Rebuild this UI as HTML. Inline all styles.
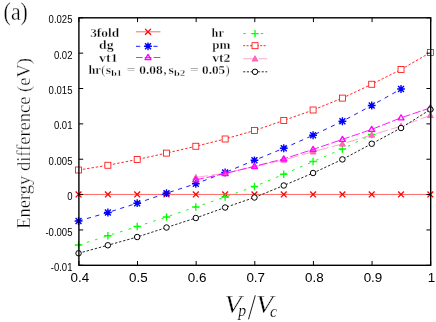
<!DOCTYPE html>
<html><head><meta charset="utf-8"><style>html,body{margin:0;padding:0;background:#fff}svg{display:block;will-change:transform}.th{stroke:#fff;stroke-width:0.35px}.th2{stroke:#fff;stroke-width:0.3px}</style></head>
<body><svg width="436" height="322" viewBox="0 0 436 322">
<path d="M78.55 194.45L107.87 194.45L137.18 194.45L166.50 194.45L195.82 194.45L225.13 194.45L254.45 194.45L283.77 194.45L313.08 194.45L342.40 194.45L371.72 194.45L401.03 194.45L430.35 194.45" stroke="#ff0000" stroke-width="0.6" fill="none"/>
<path d="M75.65 191.55L81.45 197.35M75.65 197.35L81.45 191.55" stroke="#ff0000" stroke-width="1.3" fill="none"/>
<path d="M104.97 191.55L110.77 197.35M104.97 197.35L110.77 191.55" stroke="#ff0000" stroke-width="1.3" fill="none"/>
<path d="M134.28 191.55L140.08 197.35M134.28 197.35L140.08 191.55" stroke="#ff0000" stroke-width="1.3" fill="none"/>
<path d="M163.60 191.55L169.40 197.35M163.60 197.35L169.40 191.55" stroke="#ff0000" stroke-width="1.3" fill="none"/>
<path d="M192.92 191.55L198.72 197.35M192.92 197.35L198.72 191.55" stroke="#ff0000" stroke-width="1.3" fill="none"/>
<path d="M222.23 191.55L228.03 197.35M222.23 197.35L228.03 191.55" stroke="#ff0000" stroke-width="1.3" fill="none"/>
<path d="M251.55 191.55L257.35 197.35M251.55 197.35L257.35 191.55" stroke="#ff0000" stroke-width="1.3" fill="none"/>
<path d="M280.87 191.55L286.67 197.35M280.87 197.35L286.67 191.55" stroke="#ff0000" stroke-width="1.3" fill="none"/>
<path d="M310.18 191.55L315.98 197.35M310.18 197.35L315.98 191.55" stroke="#ff0000" stroke-width="1.3" fill="none"/>
<path d="M339.50 191.55L345.30 197.35M339.50 197.35L345.30 191.55" stroke="#ff0000" stroke-width="1.3" fill="none"/>
<path d="M368.82 191.55L374.62 197.35M368.82 197.35L374.62 191.55" stroke="#ff0000" stroke-width="1.3" fill="none"/>
<path d="M398.13 191.55L403.93 197.35M398.13 197.35L403.93 191.55" stroke="#ff0000" stroke-width="1.3" fill="none"/>
<path d="M427.45 191.55L433.25 197.35M427.45 197.35L433.25 191.55" stroke="#ff0000" stroke-width="1.3" fill="none"/>
<path d="M78.55 221.00L107.87 212.50L137.18 203.20L166.50 193.20L195.82 183.75L225.13 172.50L254.45 160.30L283.77 148.25L313.08 135.25L342.40 121.25L371.72 105.50L401.03 89.00" stroke="#0000ff" stroke-width="0.9" fill="none" stroke-dasharray="4.2 4.5"/>
<path d="M74.65 221.00H82.45M78.55 217.10V224.90M75.60 218.05L81.50 223.95M75.60 223.95L81.50 218.05" stroke="#0000ff" stroke-width="1.4" fill="none"/>
<path d="M103.97 212.50H111.77M107.87 208.60V216.40M104.92 209.55L110.82 215.45M104.92 215.45L110.82 209.55" stroke="#0000ff" stroke-width="1.4" fill="none"/>
<path d="M133.28 203.20H141.08M137.18 199.30V207.10M134.23 200.25L140.13 206.15M134.23 206.15L140.13 200.25" stroke="#0000ff" stroke-width="1.4" fill="none"/>
<path d="M162.60 193.20H170.40M166.50 189.30V197.10M163.55 190.25L169.45 196.15M163.55 196.15L169.45 190.25" stroke="#0000ff" stroke-width="1.4" fill="none"/>
<path d="M191.92 183.75H199.72M195.82 179.85V187.65M192.87 180.80L198.77 186.70M192.87 186.70L198.77 180.80" stroke="#0000ff" stroke-width="1.4" fill="none"/>
<path d="M221.23 172.50H229.03M225.13 168.60V176.40M222.18 169.55L228.08 175.45M222.18 175.45L228.08 169.55" stroke="#0000ff" stroke-width="1.4" fill="none"/>
<path d="M250.55 160.30H258.35M254.45 156.40V164.20M251.50 157.35L257.40 163.25M251.50 163.25L257.40 157.35" stroke="#0000ff" stroke-width="1.4" fill="none"/>
<path d="M279.87 148.25H287.67M283.77 144.35V152.15M280.82 145.30L286.72 151.20M280.82 151.20L286.72 145.30" stroke="#0000ff" stroke-width="1.4" fill="none"/>
<path d="M309.18 135.25H316.98M313.08 131.35V139.15M310.13 132.30L316.03 138.20M310.13 138.20L316.03 132.30" stroke="#0000ff" stroke-width="1.4" fill="none"/>
<path d="M338.50 121.25H346.30M342.40 117.35V125.15M339.45 118.30L345.35 124.20M339.45 124.20L345.35 118.30" stroke="#0000ff" stroke-width="1.4" fill="none"/>
<path d="M367.82 105.50H375.62M371.72 101.60V109.40M368.77 102.55L374.67 108.45M368.77 108.45L374.67 102.55" stroke="#0000ff" stroke-width="1.4" fill="none"/>
<path d="M397.13 89.00H404.93M401.03 85.10V92.90M398.08 86.05L403.98 91.95M398.08 91.95L403.98 86.05" stroke="#0000ff" stroke-width="1.4" fill="none"/>
<path d="M78.55 245.00L107.87 235.75L137.18 226.50L166.50 217.00L195.82 207.00L225.13 197.00L254.45 186.50L283.77 174.25L313.08 161.50L342.40 149.00L371.72 134.50" stroke="#00ff00" stroke-width="0.95" fill="none" stroke-dasharray="2.6 6.1"/>
<path d="M74.85 245.00H82.25M78.55 241.30V248.70" stroke="#00ff00" stroke-width="1.3" fill="none"/>
<path d="M104.17 235.75H111.57M107.87 232.05V239.45" stroke="#00ff00" stroke-width="1.3" fill="none"/>
<path d="M133.48 226.50H140.88M137.18 222.80V230.20" stroke="#00ff00" stroke-width="1.3" fill="none"/>
<path d="M162.80 217.00H170.20M166.50 213.30V220.70" stroke="#00ff00" stroke-width="1.3" fill="none"/>
<path d="M192.12 207.00H199.52M195.82 203.30V210.70" stroke="#00ff00" stroke-width="1.3" fill="none"/>
<path d="M221.43 197.00H228.83M225.13 193.30V200.70" stroke="#00ff00" stroke-width="1.3" fill="none"/>
<path d="M250.75 186.50H258.15M254.45 182.80V190.20" stroke="#00ff00" stroke-width="1.3" fill="none"/>
<path d="M280.07 174.25H287.47M283.77 170.55V177.95" stroke="#00ff00" stroke-width="1.3" fill="none"/>
<path d="M309.38 161.50H316.78M313.08 157.80V165.20" stroke="#00ff00" stroke-width="1.3" fill="none"/>
<path d="M338.70 149.00H346.10M342.40 145.30V152.70" stroke="#00ff00" stroke-width="1.3" fill="none"/>
<path d="M368.02 134.50H375.42M371.72 130.80V138.20" stroke="#00ff00" stroke-width="1.3" fill="none"/>
<path d="M78.55 170.00L107.87 165.25L137.18 159.50L166.50 153.10L195.82 146.25L225.13 139.00L254.45 130.50L283.77 120.50L313.08 110.00L342.40 98.10L371.72 84.25L401.03 69.50L430.35 52.50" stroke="#ff0000" stroke-width="0.85" fill="none" stroke-dasharray="2.5 1.85"/>
<rect x="75.55" y="167.00" width="6.0" height="6.0" stroke="#ff0000" stroke-width="0.8" fill="#fff"/>
<rect x="104.87" y="162.25" width="6.0" height="6.0" stroke="#ff0000" stroke-width="0.8" fill="#fff"/>
<rect x="134.18" y="156.50" width="6.0" height="6.0" stroke="#ff0000" stroke-width="0.8" fill="#fff"/>
<rect x="163.50" y="150.10" width="6.0" height="6.0" stroke="#ff0000" stroke-width="0.8" fill="#fff"/>
<rect x="192.82" y="143.25" width="6.0" height="6.0" stroke="#ff0000" stroke-width="0.8" fill="#fff"/>
<rect x="222.13" y="136.00" width="6.0" height="6.0" stroke="#ff0000" stroke-width="0.8" fill="#fff"/>
<rect x="251.45" y="127.50" width="6.0" height="6.0" stroke="#ff0000" stroke-width="0.8" fill="#fff"/>
<rect x="280.77" y="117.50" width="6.0" height="6.0" stroke="#ff0000" stroke-width="0.8" fill="#fff"/>
<rect x="310.08" y="107.00" width="6.0" height="6.0" stroke="#ff0000" stroke-width="0.8" fill="#fff"/>
<rect x="339.40" y="95.10" width="6.0" height="6.0" stroke="#ff0000" stroke-width="0.8" fill="#fff"/>
<rect x="368.72" y="81.25" width="6.0" height="6.0" stroke="#ff0000" stroke-width="0.8" fill="#fff"/>
<rect x="398.03" y="66.50" width="6.0" height="6.0" stroke="#ff0000" stroke-width="0.8" fill="#fff"/>
<rect x="427.35" y="49.50" width="6.0" height="6.0" stroke="#ff0000" stroke-width="0.8" fill="#fff"/>
<path d="M195.82 177.50L225.13 173.10L254.45 166.60L283.77 159.90L313.08 151.70L342.40 143.90L371.72 134.90L401.03 126.20L430.35 115.40" stroke="#ff69b4" stroke-width="0.6" fill="none" stroke-dasharray="12 3.5"/>
<path d="M195.82 174.45L198.77 179.75H192.87Z" stroke="#ff69b4" stroke-width="1" stroke-linejoin="round" fill="#ff69b4"/>
<path d="M225.13 170.05L228.08 175.35H222.18Z" stroke="#ff69b4" stroke-width="1" stroke-linejoin="round" fill="#ff69b4"/>
<path d="M254.45 163.55L257.40 168.85H251.50Z" stroke="#ff69b4" stroke-width="1" stroke-linejoin="round" fill="#ff69b4"/>
<path d="M283.77 156.85L286.72 162.15H280.82Z" stroke="#ff69b4" stroke-width="1" stroke-linejoin="round" fill="#ff69b4"/>
<path d="M313.08 148.65L316.03 153.95H310.13Z" stroke="#ff69b4" stroke-width="1" stroke-linejoin="round" fill="#ff69b4"/>
<path d="M342.40 140.85L345.35 146.15H339.45Z" stroke="#ff69b4" stroke-width="1" stroke-linejoin="round" fill="#ff69b4"/>
<path d="M371.72 131.85L374.67 137.15H368.77Z" stroke="#ff69b4" stroke-width="1" stroke-linejoin="round" fill="#ff69b4"/>
<path d="M401.03 123.15L403.98 128.45H398.08Z" stroke="#ff69b4" stroke-width="1" stroke-linejoin="round" fill="#ff69b4"/>
<path d="M430.35 112.35L433.30 117.65H427.40Z" stroke="#ff69b4" stroke-width="1" stroke-linejoin="round" fill="#ff69b4"/>
<path d="M195.82 179.80L225.13 173.60L254.45 166.30L283.77 158.90L313.08 149.40L342.40 139.40L371.72 129.40L401.03 117.80L430.35 107.90" stroke="#ff00ff" stroke-width="0.9" fill="none" stroke-dasharray="8.5 2.3"/>
<path d="M195.82 176.75L198.82 181.80H192.82Z" stroke="#ff00ff" stroke-width="1.3" stroke-linejoin="round" fill="none"/>
<path d="M225.13 170.55L228.13 175.60H222.13Z" stroke="#ff00ff" stroke-width="1.3" stroke-linejoin="round" fill="none"/>
<path d="M254.45 163.25L257.45 168.30H251.45Z" stroke="#ff00ff" stroke-width="1.3" stroke-linejoin="round" fill="none"/>
<path d="M283.77 155.85L286.77 160.90H280.77Z" stroke="#ff00ff" stroke-width="1.3" stroke-linejoin="round" fill="none"/>
<path d="M313.08 146.35L316.08 151.40H310.08Z" stroke="#ff00ff" stroke-width="1.3" stroke-linejoin="round" fill="none"/>
<path d="M342.40 136.35L345.40 141.40H339.40Z" stroke="#ff00ff" stroke-width="1.3" stroke-linejoin="round" fill="none"/>
<path d="M371.72 126.35L374.72 131.40H368.72Z" stroke="#ff00ff" stroke-width="1.3" stroke-linejoin="round" fill="none"/>
<path d="M401.03 114.75L404.03 119.80H398.03Z" stroke="#ff00ff" stroke-width="1.3" stroke-linejoin="round" fill="none"/>
<path d="M430.35 104.85L433.35 109.90H427.35Z" stroke="#ff00ff" stroke-width="1.3" stroke-linejoin="round" fill="none"/>
<path d="M78.55 253.25L107.87 245.25L137.18 237.00L166.50 227.50L195.82 218.00L225.13 207.50L254.45 197.50L283.77 185.50L313.08 173.00L342.40 159.40L371.72 143.75L401.03 128.00L430.35 109.50" stroke="#000000" stroke-width="0.85" fill="none" stroke-dasharray="2.4 1.8"/>
<circle cx="78.55" cy="253.25" r="2.75" stroke="#000000" stroke-width="1" fill="#fff"/>
<circle cx="107.87" cy="245.25" r="2.75" stroke="#000000" stroke-width="1" fill="#fff"/>
<circle cx="137.18" cy="237.00" r="2.75" stroke="#000000" stroke-width="1" fill="#fff"/>
<circle cx="166.50" cy="227.50" r="2.75" stroke="#000000" stroke-width="1" fill="#fff"/>
<circle cx="195.82" cy="218.00" r="2.75" stroke="#000000" stroke-width="1" fill="#fff"/>
<circle cx="225.13" cy="207.50" r="2.75" stroke="#000000" stroke-width="1" fill="#fff"/>
<circle cx="254.45" cy="197.50" r="2.75" stroke="#000000" stroke-width="1" fill="#fff"/>
<circle cx="283.77" cy="185.50" r="2.75" stroke="#000000" stroke-width="1" fill="#fff"/>
<circle cx="313.08" cy="173.00" r="2.75" stroke="#000000" stroke-width="1" fill="#fff"/>
<circle cx="342.40" cy="159.40" r="2.75" stroke="#000000" stroke-width="1" fill="#fff"/>
<circle cx="371.72" cy="143.75" r="2.75" stroke="#000000" stroke-width="1" fill="#fff"/>
<circle cx="401.03" cy="128.00" r="2.75" stroke="#000000" stroke-width="1" fill="#fff"/>
<circle cx="430.35" cy="109.50" r="2.75" stroke="#000000" stroke-width="1" fill="#fff"/>
<path d="M136 31.8H160.4" stroke="#ff0000" stroke-width="0.6" fill="none"/>
<path d="M145.10 28.90L150.90 34.70M145.10 34.70L150.90 28.90" stroke="#ff0000" stroke-width="1.3" fill="none"/>
<path d="M136 46.3H160.4" stroke="#0000ff" stroke-width="0.9" fill="none" stroke-dasharray="4.2 4.5"/>
<path d="M144.10 46.30H151.90M148.00 42.40V50.20M145.05 43.35L150.95 49.25M145.05 49.25L150.95 43.35" stroke="#0000ff" stroke-width="1.4" fill="none"/>
<path d="M136 57.5H160.4" stroke="#ff00ff" stroke-width="0.9" fill="none" stroke-dasharray="6.7 2.1"/>
<path d="M148.00 54.45L151.00 59.50H145.00Z" stroke="#ff00ff" stroke-width="1.3" stroke-linejoin="round" fill="none"/>
<path d="M243.2 33.6H267.2" stroke="#00ff00" stroke-width="0.95" fill="none" stroke-dasharray="2.6 6.1"/>
<path d="M251.30 33.60H258.70M255.00 29.90V37.30" stroke="#00ff00" stroke-width="1.3" fill="none"/>
<path d="M243.2 45.7H267.2" stroke="#ff0000" stroke-width="0.85" fill="none" stroke-dasharray="2.0 1.4"/>
<rect x="252.00" y="42.70" width="6.0" height="6.0" stroke="#ff0000" stroke-width="0.8" fill="#fff"/>
<path d="M243.2 58.75H267.2" stroke="#ff69b4" stroke-width="0.6" fill="none" stroke-dasharray="12 3.5"/>
<path d="M255.00 55.70L257.95 61.00H252.05Z" stroke="#ff69b4" stroke-width="1" stroke-linejoin="round" fill="#ff69b4"/>
<path d="M243.2 71.8H267.2" stroke="#000000" stroke-width="0.85" fill="none" stroke-dasharray="2.1 1.6"/>
<circle cx="255.00" cy="71.80" r="2.75" stroke="#000000" stroke-width="1" fill="#fff"/>
<rect x="78.9" y="17.8" width="351.80" height="247.50" fill="none" stroke="#000" stroke-width="1.4"/>
<path d="M78.90 265.3V261.0M78.90 17.8V22.1M137.53 265.3V261.0M137.53 17.8V22.1M196.17 265.3V261.0M196.17 17.8V22.1M254.80 265.3V261.0M254.80 17.8V22.1M313.43 265.3V261.0M313.43 17.8V22.1M372.07 265.3V261.0M372.07 17.8V22.1M430.70 265.3V261.0M430.70 17.8V22.1M78.9 265.30H83.2M430.7 265.30H426.4M78.9 229.94H83.2M430.7 229.94H426.4M78.9 194.59H83.2M430.7 194.59H426.4M78.9 159.23H83.2M430.7 159.23H426.4M78.9 123.87H83.2M430.7 123.87H426.4M78.9 88.51H83.2M430.7 88.51H426.4M78.9 53.16H83.2M430.7 53.16H426.4M78.9 17.80H83.2M430.7 17.80H426.4" stroke="#000" stroke-width="1" fill="none"/>
<text transform="translate(72.5 270.90) scale(0.92 1)" text-anchor="end" font-family="Liberation Sans" font-size="10.4">-0.01</text>
<text transform="translate(72.5 235.54) scale(0.92 1)" text-anchor="end" font-family="Liberation Sans" font-size="10.4">-0.005</text>
<text transform="translate(72.5 200.19) scale(0.92 1)" text-anchor="end" font-family="Liberation Sans" font-size="10.4">0</text>
<text transform="translate(72.5 164.83) scale(0.92 1)" text-anchor="end" font-family="Liberation Sans" font-size="10.4">0.005</text>
<text transform="translate(72.5 129.47) scale(0.92 1)" text-anchor="end" font-family="Liberation Sans" font-size="10.4">0.01</text>
<text transform="translate(72.5 94.11) scale(0.92 1)" text-anchor="end" font-family="Liberation Sans" font-size="10.4">0.015</text>
<text transform="translate(72.5 58.76) scale(0.92 1)" text-anchor="end" font-family="Liberation Sans" font-size="10.4">0.02</text>
<text transform="translate(72.5 23.40) scale(0.92 1)" text-anchor="end" font-family="Liberation Sans" font-size="10.4">0.025</text>
<text x="79.80" y="281.7" text-anchor="middle" font-family="Liberation Sans" font-size="13.4">0.4</text>
<text x="138.43" y="281.7" text-anchor="middle" font-family="Liberation Sans" font-size="13.4">0.5</text>
<text x="197.07" y="281.7" text-anchor="middle" font-family="Liberation Sans" font-size="13.4">0.6</text>
<text x="255.70" y="281.7" text-anchor="middle" font-family="Liberation Sans" font-size="13.4">0.7</text>
<text x="314.33" y="281.7" text-anchor="middle" font-family="Liberation Sans" font-size="13.4">0.8</text>
<text x="372.97" y="281.7" text-anchor="middle" font-family="Liberation Sans" font-size="13.4">0.9</text>
<text x="431.60" y="281.7" text-anchor="middle" font-family="Liberation Sans" font-size="13.4">1</text>
<text class="th" x="3.6" y="20.3" font-family="Liberation Serif" font-size="25" textLength="24.3" lengthAdjust="spacingAndGlyphs">(a)</text>
<text class="th" transform="translate(29.9 143.4) rotate(-90)" text-anchor="middle" font-family="Liberation Serif" font-size="18.6" textLength="170.7" lengthAdjust="spacingAndGlyphs">Energy difference (eV)</text>
<text x="224.4" y="313.3" class="th" font-family="Liberation Serif" font-style="italic" font-size="24.5" textLength="17" lengthAdjust="spacingAndGlyphs">V</text>
<text x="238.3" y="316.4" font-family="Liberation Serif" font-style="italic" font-size="15.8" stroke="#fff" stroke-width="0.15">p</text>
<path d="M255.3 295.3L248.5 319.3" stroke="#000" stroke-width="0.9" fill="none"/>
<text x="256.1" y="313.3" class="th" font-family="Liberation Serif" font-style="italic" font-size="24.5" textLength="17" lengthAdjust="spacingAndGlyphs">V</text>
<text x="270.0" y="316.9" font-family="Liberation Serif" font-style="italic" font-size="16" stroke="#fff" stroke-width="0.15">c</text>
<text class="th2" x="90.2" y="37.1" textLength="29" lengthAdjust="spacingAndGlyphs" font-family="Liberation Serif" font-weight="bold" font-size="12">3fold</text>
<text class="th2" x="99.1" y="49.1" textLength="14.6" lengthAdjust="spacingAndGlyphs" font-family="Liberation Serif" font-weight="bold" font-size="12">dg</text>
<text class="th2" x="99.1" y="61.8" textLength="18.6" lengthAdjust="spacingAndGlyphs" font-family="Liberation Serif" font-weight="bold" font-size="12">vt1</text>
<text class="th2" x="211.6" y="37.0" textLength="12.2" lengthAdjust="spacingAndGlyphs" font-family="Liberation Serif" font-weight="bold" font-size="12">hr</text>
<text class="th2" x="212.2" y="48.7" textLength="18.2" lengthAdjust="spacingAndGlyphs" font-family="Liberation Serif" font-weight="bold" font-size="12">pm</text>
<text class="th2" x="212.2" y="61.7" textLength="18.2" lengthAdjust="spacingAndGlyphs" font-family="Liberation Serif" font-weight="bold" font-size="12">vt2</text>
<text class="th2" x="88.4" y="74.3" textLength="12.4" lengthAdjust="spacingAndGlyphs" font-family="Liberation Serif" font-weight="bold" font-size="12">hr</text>
<text class="th2" x="101.2" y="74.3" textLength="4.2" lengthAdjust="spacingAndGlyphs" font-family="Liberation Serif" font-size="12">(</text>
<text class="th2" x="105.8" y="74.3" textLength="5.3" lengthAdjust="spacingAndGlyphs" font-family="Liberation Serif" font-weight="bold" font-size="12">s</text>
<text class="th2" x="111.3" y="75.7" textLength="10.5" lengthAdjust="spacingAndGlyphs" font-family="Liberation Serif" font-weight="bold" font-size="9">b1</text>
<text class="th2" x="126.8" y="74.3" textLength="8.8" lengthAdjust="spacingAndGlyphs" font-family="Liberation Serif" font-size="12">=</text>
<text class="th2" x="139.3" y="74.3" textLength="23.4" lengthAdjust="spacingAndGlyphs" font-family="Liberation Serif" font-weight="bold" font-size="12">0.08</text>
<text class="th2" x="163.4" y="74.3" textLength="3" lengthAdjust="spacingAndGlyphs" font-family="Liberation Serif" font-weight="bold" font-size="12">,</text>
<text class="th2" x="168.6" y="74.3" textLength="5.3" lengthAdjust="spacingAndGlyphs" font-family="Liberation Serif" font-weight="bold" font-size="12">s</text>
<text class="th2" x="174.1" y="75.7" textLength="11.1" lengthAdjust="spacingAndGlyphs" font-family="Liberation Serif" font-weight="bold" font-size="9">b2</text>
<text class="th2" x="190.0" y="74.3" textLength="8.8" lengthAdjust="spacingAndGlyphs" font-family="Liberation Serif" font-size="12">=</text>
<text class="th2" x="202.1" y="74.3" textLength="23" lengthAdjust="spacingAndGlyphs" font-family="Liberation Serif" font-weight="bold" font-size="12">0.05</text>
<text class="th2" x="225.4" y="74.3" textLength="4.2" lengthAdjust="spacingAndGlyphs" font-family="Liberation Serif" font-size="12">)</text>
</svg></body></html>
